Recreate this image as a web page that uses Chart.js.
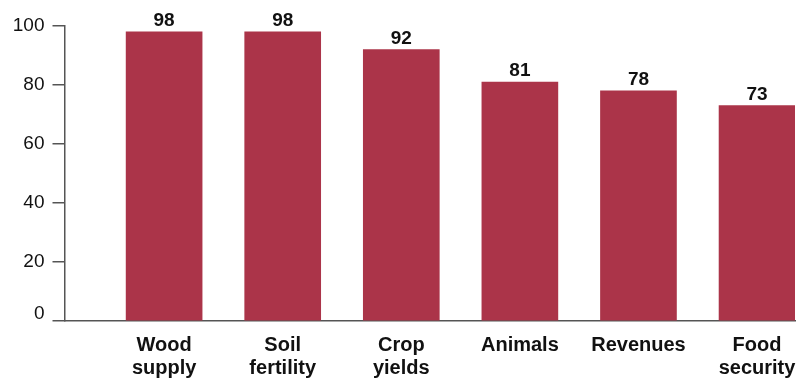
<!DOCTYPE html>
<html>
<head>
<meta charset="utf-8">
<script src="https://cdn.jsdelivr.net/npm/chart.js@4/dist/chart.umd.min.js"></script>
<style>
  html, body { margin: 0; padding: 0; background: #fff; }
  #wrap { width: 797px; height: 379px; position: relative; }
</style>
</head>
<body>
<div id="wrap"><canvas id="c"></canvas></div>
<script>
// Share of respondents (%) reporting each benefit
const categories = [
  ['Wood', 'supply'],
  ['Soil', 'fertility'],
  ['Crop', 'yields'],
  ['Animals'],
  ['Revenues'],
  ['Food', 'security']
];
const values = [98, 98, 92, 81, 78, 73];
const yTicks = [0, 20, 40, 60, 80, 100];

const BAR = '#AB3449';
const AXIS = '#555555';
const FONT = '"Liberation Sans", Arial, Helvetica, sans-serif';

// Writes each bar's value just above it
const valueLabels = {
  id: 'valueLabels',
  afterDatasetsDraw(chart) {
    const ctx = chart.ctx;
    const meta = chart.getDatasetMeta(0);
    ctx.save();
    ctx.font = 'bold 19px ' + FONT;
    ctx.fillStyle = '#111';
    ctx.textAlign = 'center';
    ctx.textBaseline = 'alphabetic';
    meta.data.forEach((bar, i) => {
      ctx.fillText(String(values[i]), bar.x, bar.y - 6);
    });
    ctx.restore();
  }
};

new Chart(document.getElementById('c'), {
  type: 'bar',
  data: {
    datasets: [{
      data: values.map((v, i) => ({ x: i, y: v })),
      backgroundColor: BAR,
      borderWidth: 0,
      barThickness: 76
    }]
  },
  options: {
    responsive: true,
    maintainAspectRatio: false,
    animation: false,
    layout: { autoPadding: false, padding: { top: 26, right: 2, left: 0, bottom: 0 } },
    plugins: { legend: { display: false }, tooltip: { enabled: false } },
    scales: {
      x: {
        type: 'linear',
        min: -0.84,
        max: 5.32,
        offset: false,
        afterBuildTicks(scale) {
          scale.ticks = categories.map((_, i) => ({ value: i }));
        },
        afterFit(scale) {
          scale.height = 58;
          scale.paddingLeft = 0;
          scale.paddingRight = 0;
        },
        grid: { display: false, offset: false },
        border: { display: true, color: AXIS, width: 1.5 },
        ticks: {
          padding: 5,
          maxRotation: 0,
          autoSkip: false,
          color: '#111',
          font: { family: FONT, size: 20, weight: 'bold', lineHeight: 1.15 },
          callback: (v) => categories[v] || ''
        }
      },
      y: {
        min: 0,
        max: 100,
        afterBuildTicks(scale) {
          scale.ticks = yTicks.map(v => ({ value: v }));
        },
        afterFit(scale) { scale.width = 64.5; },
        grid: { drawOnChartArea: false, drawTicks: true, tickLength: 12, color: AXIS, lineWidth: 1.5 },
        border: { display: true, color: AXIS, width: 1.5 },
        ticks: {
          padding: 8,
          color: '#111',
          font: { family: FONT, size: 19, lineHeight: 0.75 },
          // the bottom label sits slightly above its tick, clear of the baseline
          callback: (v) => (v === 0 ? ['0', ''] : String(v))
        }
      }
    }
  },
  plugins: [valueLabels]
});
</script>
</body>
</html>
